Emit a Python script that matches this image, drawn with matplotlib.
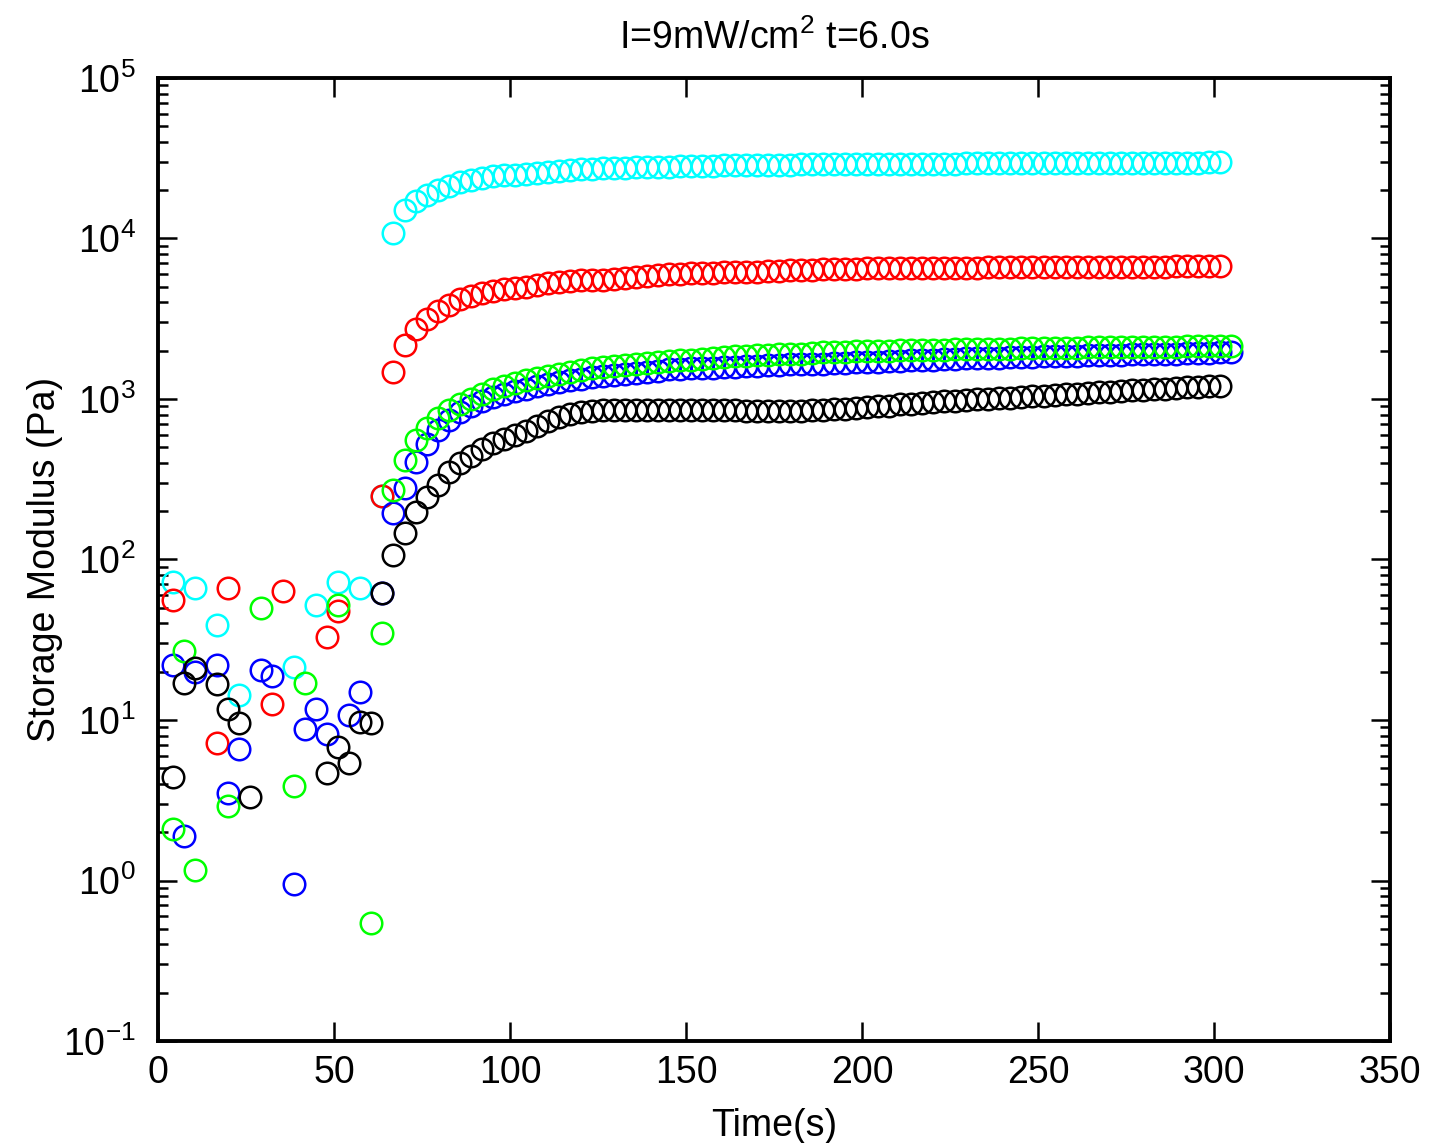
import numpy as np
import matplotlib
matplotlib.use("Agg")
import matplotlib.pyplot as plt
from matplotlib.ticker import LogLocator, FixedLocator

nan = np.nan

# sampling: one point every ~3.13 s starting at 4.3 s
T0 = 4.3
DT = 3.13

# noise region (first 20 samples); nan = point not shown (<= 0 on log axis)
cyan_noise = [72, nan, 66, nan, 39, nan, 14.3, nan, nan, nan,
              nan, 21.4, nan, 52, nan, 72, nan, 66, nan, 250]
red_noise = [56, nan, nan, nan, 7.2, 66, nan, nan, nan, 12.6,
             64, nan, nan, nan, 33, 48, nan, nan, nan, 250]
green_noise = [2.1, 27, 1.16, nan, nan, 2.9, nan, nan, 50, nan,
               nan, 3.9, 17, nan, nan, 52, nan, nan, 0.54, 35]
blue_noise = [22, 1.9, 20, nan, 22, 3.5, 6.6, nan, 20.5, 18.8,
              nan, 0.95, 8.8, 11.7, 8.2, nan, 10.7, 14.9, nan, 62]
black_noise = [4.4, 17, 21, nan, 16.8, 11.7, 9.6, 3.3, nan, nan,
               nan, nan, nan, nan, 4.7, 6.8, 5.4, 9.7, 9.6, 62]

# curing region (after UV on)
cyan_cure = [10800, 15100, 17100, 18700, 20100, 21200, 22500, 23100, 23800, 24500,
             24900, 25000, 25200, 25600, 25900, 26500, 26700, 26900, 27100, 27300,
             27500, 27600, 27700, 27800, 27900, 28000, 28100, 28200, 28300, 28400,
             28500, 28500, 28600, 28700, 28700, 28800, 28800, 28900, 28900, 29000,
             29000, 29000, 29100, 29100, 29100, 29200, 29200, 29200, 29300, 29300,
             29300, 29300, 29400, 29400, 29400, 29400, 29500, 29500, 29500, 29500,
             29500, 29500, 29600, 29600, 29600, 29600, 29600, 29700, 29700, 29700,
             29700, 29700, 29700, 29700, 29800, 29800]
red_cure = [1470, 2170, 2710, 3160, 3540, 3850, 4220, 4410, 4580, 4720,
            4830, 4920, 5000, 5150, 5260, 5380, 5420, 5500, 5510, 5550,
            5600, 5670, 5750, 5840, 5930, 5970, 6010, 6060, 6100, 6130,
            6150, 6180, 6180, 6210, 6230, 6280, 6320, 6360, 6390, 6410,
            6460, 6480, 6490, 6500, 6510, 6520, 6530, 6540, 6550, 6560,
            6570, 6580, 6590, 6590, 6600, 6610, 6610, 6620, 6630, 6630,
            6640, 6640, 6650, 6650, 6660, 6660, 6670, 6670, 6670, 6680,
            6680, 6690, 6690, 6690, 6690, 6690]
green_cure = [271, 417, 555, 660, 762, 854, 930, 1000, 1070, 1150,
              1210, 1260, 1310, 1350, 1390, 1430, 1470, 1520, 1550, 1580,
              1610, 1630, 1650, 1680, 1700, 1730, 1750, 1760, 1780, 1800,
              1830, 1840, 1860, 1870, 1880, 1900, 1910, 1920, 1940, 1950,
              1960, 1970, 1980, 1990, 1990, 2000, 2010, 2010, 2020, 2030,
              2030, 2040, 2040, 2050, 2050, 2060, 2060, 2070, 2070, 2080,
              2080, 2090, 2090, 2100, 2100, 2100, 2110, 2110, 2110, 2120,
              2120, 2120, 2130, 2130, 2130, 2140, 2140]
blue_cure = [195, 279, 405, 525, 641, 740, 829, 904, 972, 1030,
             1070, 1120, 1160, 1200, 1240, 1280, 1310, 1340, 1370, 1400,
             1420, 1440, 1460, 1480, 1500, 1530, 1540, 1550, 1560, 1570,
             1580, 1590, 1600, 1610, 1620, 1630, 1640, 1650, 1650, 1660,
             1670, 1680, 1690, 1700, 1710, 1720, 1730, 1740, 1750, 1760,
             1770, 1780, 1790, 1790, 1800, 1810, 1820, 1820, 1830, 1840,
             1850, 1860, 1860, 1870, 1880, 1880, 1890, 1900, 1900, 1910,
             1910, 1920, 1930, 1930, 1940, 1950, 1960]
black_cure = [107, 146, 198, 245, 291, 351, 399, 442, 488, 532,
              564, 597, 632, 679, 730, 773, 805, 828, 842, 850,
              855, 856, 855, 854, 853, 852, 851, 850, 850, 849,
              848, 848, 847, 846, 846, 845, 845, 846, 848, 852,
              860, 870, 880, 890, 900, 910, 925, 935, 945, 955,
              965, 975, 985, 995, 1000, 1010, 1020, 1030, 1040, 1050,
              1060, 1070, 1080, 1090, 1100, 1110, 1120, 1130, 1140, 1150,
              1160, 1170, 1180, 1190, 1200, 1210]

series = [
    ("cyan", cyan_noise + cyan_cure),
    ("red", red_noise + red_cure),
    ("blue", blue_noise + blue_cure),
    ("lime", green_noise + green_cure),
    ("black", black_noise + black_cure),
]

font = ["Liberation Sans Narrow", "Liberation Sans", "DejaVu Sans"]
plt.rcParams["font.family"] = font
plt.rcParams["mathtext.fontset"] = "custom"
plt.rcParams["mathtext.rm"] = "Liberation Sans"
plt.rcParams["mathtext.it"] = "Liberation Sans"
plt.rcParams["mathtext.default"] = "regular"
plt.rcParams["axes.unicode_minus"] = False

fig = plt.figure(figsize=(14.3, 11.43), dpi=100)
ax = fig.add_axes([0.1105, 0.0892, 0.8615, 0.8426])

for color, vals in series:
    vals = np.array(vals, dtype=float)
    t = T0 + DT * np.arange(len(vals))
    ax.plot(t, vals, ls="none", marker="o", mfc="none", mec=color,
            ms=15.5, mew=1.8)

ax.set_yscale("log")
ax.set_xlim(0, 350)
ax.set_ylim(1e-1, 1e5)
ax.xaxis.set_major_locator(FixedLocator(np.arange(0, 351, 50)))
ax.yaxis.set_minor_locator(LogLocator(base=10, subs=np.arange(2, 10), numticks=10))
ax.set_yticks([10.0 ** e for e in range(-1, 6)])
ax.set_yticklabels([r"$10^{%d}$" % e for e in range(-1, 6)])

ax.tick_params(which="both", direction="in", top=True, right=True,
               labelsize=27, width=1.8)
ax.tick_params(axis="x", pad=10)
ax.tick_params(axis="y", pad=16)
ax.tick_params(which="major", length=14)
ax.tick_params(which="minor", length=7)
for sp in ax.spines.values():
    sp.set_linewidth(2.8)

ax.set_xlabel("Time(s)", fontsize=27, labelpad=12)
ax.set_ylabel("Storage Modulus (Pa)", fontsize=27, labelpad=0)
ax.set_title(r"I=9mW/cm$^2$ t=6.0s", fontsize=27, pad=21)

fig.savefig("out.png", dpi=100)
